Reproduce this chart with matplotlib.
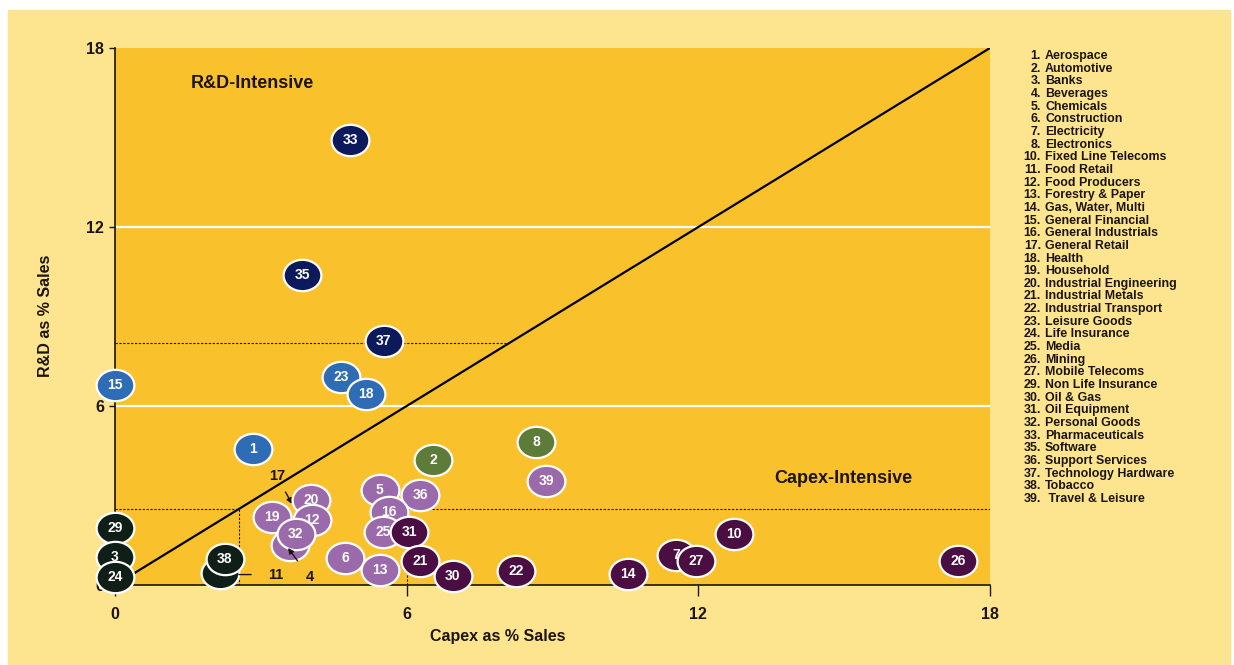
import numpy as np
import matplotlib.pyplot as plt
from matplotlib.path import Path
from matplotlib.markers import MarkerStyle
from matplotlib.transforms import Affine2D
from matplotlib.patches import Rectangle

plt.rcParams['font.family'] = ['Liberation Sans', 'DejaVu Sans']

# sector id, capex % sales, R&D % sales, colour group (drawing order matters)
ids = [33, 35, 37, 15, 23, 18, 1, 2, 8, 39, 5, 36, 20, 19, 12, 4, 32, 16, 25,
       6, 13, 31, 21, 30, 22, 14, 7, 27, 10, 26, 29, 3, 24, 11, 38]
capex = [4.84, 3.85, 5.53, 0.0, 4.65, 5.16, 2.84, 6.54, 8.66, 8.87, 5.45, 6.28,
         4.03, 3.23, 4.05, 3.60, 3.72, 5.64, 5.51, 4.73, 5.45, 6.05, 6.28, 6.95,
         8.25, 10.56, 11.54, 11.95, 12.74, 17.35, 0.0, 0.0, 0.0, 2.16, 2.26]
rd = [14.92, 10.39, 8.18, 6.70, 6.97, 6.40, 4.56, 4.19, 4.79, 3.49, 3.18, 3.02,
      2.85, 2.28, 2.18, 1.34, 1.71, 2.45, 1.78, 0.91, 0.50, 1.78, 0.80, 0.30,
      0.47, 0.37, 1.00, 0.80, 1.71, 0.80, 1.91, 0.94, 0.27, 0.40, 0.87]
groups = ['navy'] * 3 + ['blue'] * 4 + ['green'] * 2 + ['purple'] * 12 + \
         ['plum'] * 9 + ['black'] * 5
hidden = [4, 11]  # covered by neighbours, labelled with arrows instead

legend_nums = [1, 2, 3, 4, 5, 6, 7, 8, 10, 11, 12, 13, 14, 15, 16, 17, 18, 19,
               20, 21, 22, 23, 24, 25, 26, 27, 29, 30, 31, 32, 33, 35, 36, 37,
               38, 39]
legend_names = ['Aerospace', 'Automotive', 'Banks', 'Beverages', 'Chemicals',
                'Construction', 'Electricity', 'Electronics',
                'Fixed Line Telecoms', 'Food Retail', 'Food Producers',
                'Forestry & Paper', 'Gas, Water, Multi', 'General Financial',
                'General Industrials', 'General Retail', 'Health', 'Household',
                'Industrial Engineering', 'Industrial Metals',
                'Industrial Transport', 'Leisure Goods', 'Life Insurance',
                'Media', 'Mining', 'Mobile Telecoms', 'Non Life Insurance',
                'Oil & Gas', 'Oil Equipment', 'Personal Goods',
                'Pharmaceuticals', 'Software', 'Support Services',
                'Technology Hardware', 'Tobacco', ' Travel & Leisure']

colors = {'navy': '#0c1a5c', 'blue': '#2f6cb6', 'green': '#5e7c39',
          'purple': '#9a6aab', 'plum': '#4a0e43', 'black': '#0f1e16'}

panel = '#fde590'
orange = '#f9c22c'
ink = '#1c1410'

W, H = 1234, 665
fig = plt.figure(figsize=(W / 100, H / 100), dpi=100, facecolor='white')
fig.patches.append(Rectangle((8 / W, 0), 1 - 12 / W, 1 - 10 / H,
                             transform=fig.transFigure, color=panel,
                             zorder=-5))

ax = fig.add_axes([115 / W, 1 - 585 / H, 875 / W, 537 / H])
ax.set_facecolor(orange)
ax.set_xlim(0, 18)
ax.set_ylim(0, 18)
for s in ['top', 'right']:
    ax.spines[s].set_visible(False)
for s in ['left', 'bottom']:
    ax.spines[s].set_color(ink)
    ax.spines[s].set_linewidth(1.2)

ax.set_xticks([0, 6, 12, 18])
ax.set_yticks([0, 6, 12, 18])
ax.tick_params(axis='x', length=8, width=1, color=ink, pad=8,
               labelsize=11.5, labelcolor=ink)
ax.tick_params(axis='y', length=4, width=1, color=ink, pad=4,
               labelsize=11.5, labelcolor=ink)
for lab in ax.get_xticklabels() + ax.get_yticklabels():
    lab.set_fontweight('bold')

for yv in [6, 12]:
    ax.axhline(yv, color='white', lw=1.6, zorder=1)

ax.plot([0, 18], [0, 18], color='black', lw=1.6, zorder=2)

# threshold guides
dash = dict(color=ink, lw=0.8, ls=(0, (2, 1.5)), zorder=2)
ax.plot([0, 8.1], [8.1, 8.1], **dash)
ax.plot([0, 2.55, 2.55], [2.55, 2.55, 0], **dash)
ax.plot([6, 6, 18], [0, 2.55, 2.55], **dash)

ell = Path.unit_circle().transformed(Affine2D().scale(1, 0.83))
mk = MarkerStyle(ell)

for i, (n, x, y, g) in enumerate(zip(ids, capex, rd, groups)):
    z = 5 + i * 0.02
    ax.scatter([x], [y], s=740, marker=mk, color=colors[g],
               edgecolors='white', linewidths=1.6, zorder=z, clip_on=False)
    if n not in hidden:
        ax.text(x, y, str(n), color='white', fontsize=10, fontweight='bold',
                ha='center', va='center', zorder=z + 0.01, clip_on=False)

ax.annotate('17', xy=(3.64, 2.72), xytext=(3.33, 3.65), fontsize=10.5,
            fontweight='bold', color=ink, ha='center', va='center',
            arrowprops=dict(arrowstyle='-|>', color=ink, lw=1,
                            mutation_scale=8, shrinkA=5, shrinkB=0),
            zorder=4)
ax.annotate('4', xy=(3.56, 1.24), xytext=(4.0, 0.27), fontsize=10.5,
            fontweight='bold', color=ink, ha='center', va='center',
            arrowprops=dict(arrowstyle='-|>', color=ink, lw=1,
                            mutation_scale=8, shrinkA=6, shrinkB=0),
            zorder=20)
ax.annotate('11', xy=(2.55, 0.35), xytext=(3.3, 0.35), fontsize=10.5,
            fontweight='bold', color=ink, ha='center', va='center',
            arrowprops=dict(arrowstyle='-', color=ink, lw=1,
                            shrinkA=10, shrinkB=0),
            zorder=20)

ax.text(2.83, 16.8, 'R&D-Intensive', fontsize=13, fontweight='bold',
        color=ink, ha='center', va='center')
ax.text(14.98, 3.58, 'Capex-Intensive', fontsize=13, fontweight='bold',
        color=ink, ha='center', va='center')

fig.text(498 / W, 1 - 637 / H, 'Capex as % Sales', fontsize=11.5,
         fontweight='bold', color=ink, ha='center', va='center')
fig.text(46 / W, 1 - 316 / H, 'R&D as % Sales', fontsize=11.5,
         fontweight='bold', color=ink, ha='center', va='center', rotation=90)

ys = np.linspace(56, 499, len(legend_nums))
for n, name, yy in zip(legend_nums, legend_names, ys):
    fig.text(1041 / W, 1 - yy / H, f'{n}.', fontsize=8.9, fontweight='bold',
             color=ink, ha='right', va='center')
    fig.text(1045 / W, 1 - yy / H, name, fontsize=8.9, fontweight='bold',
             color=ink, ha='left', va='center')

fig.savefig('out.png', dpi=100, facecolor='white')
